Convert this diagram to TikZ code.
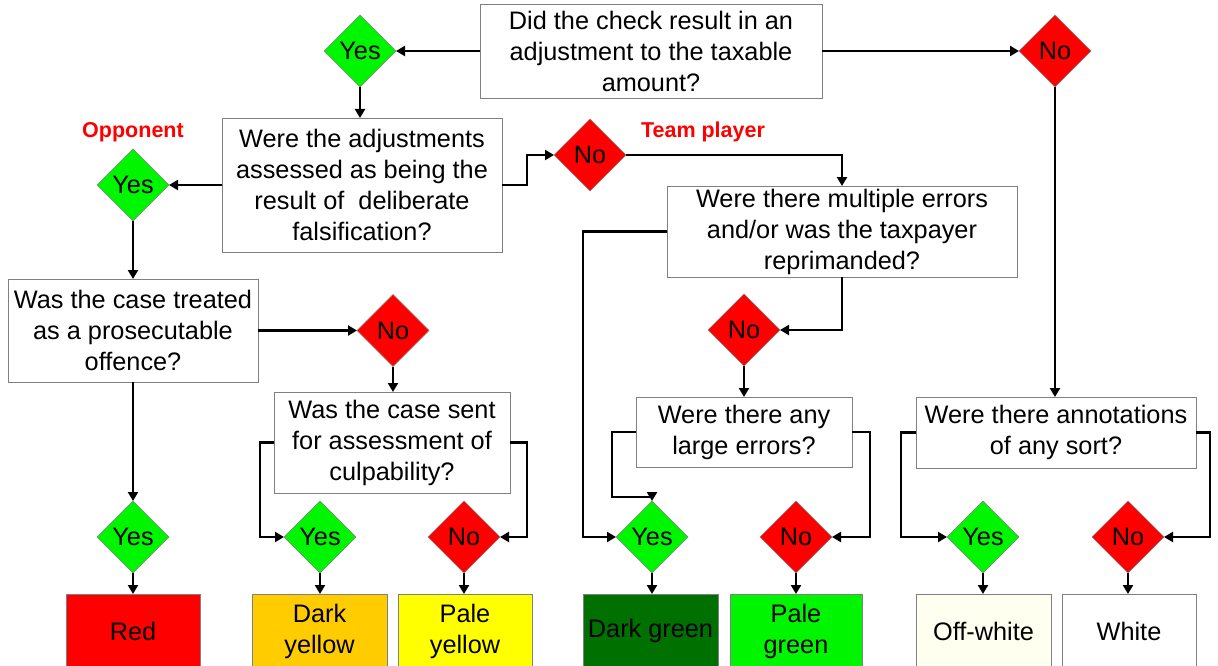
\documentclass[tikz,border=0pt]{standalone}
\usepackage{fontspec}
\setmainfont{Liberation Sans}
\usetikzlibrary{shapes.geometric,arrows.meta}
\definecolor{ygreen}{RGB}{0,245,0}
\definecolor{nred}{RGB}{255,0,0}
\definecolor{boxgray}{RGB}{128,128,128}
\definecolor{dgreen}{RGB}{0,112,0}
\definecolor{pgreen}{RGB}{0,245,0}
\definecolor{dyellow}{RGB}{255,204,0}
\definecolor{pyellow}{RGB}{255,255,0}
\definecolor{offwhite}{RGB}{255,255,240}
\begin{document}
\begin{tikzpicture}[x=1pt,y=-1pt,
  every node/.style={font=\fontsize{25.3}{31}\selectfont, inner sep=0pt, outer sep=0pt},
  qbox/.style={draw=boxgray, line width=0.9pt, fill=white, align=center},
  dia/.style={diamond, draw=boxgray, line width=0.6pt, minimum width=72pt, minimum height=72pt, aspect=1},
  ydia/.style={dia, fill=ygreen},
  ndia/.style={dia, fill=nred},
  res/.style={draw=boxgray, line width=0.9pt, align=center, minimum height=74pt},
  lab/.style={font=\fontsize{21.5}{26}\selectfont\bfseries, text=nred},
  arr/.style={line width=2.8pt, -{Triangle[length=9pt,width=10pt]}}]
\useasboundingbox (0,0) rectangle (1218,666);
\clip (0,0) rectangle (1218,666);

% question boxes
\node[qbox, minimum width=342pt, minimum height=94pt] (q1) at (651,51) {Did the check result in an\\adjustment to the taxable\\amount?};
\node[qbox, minimum width=280pt, minimum height=134pt] (q2) at (362,185) {Were the adjustments\\assessed as being the\\result of\ \ deliberate\\falsification?};
\node[qbox, minimum width=350pt, minimum height=91pt] (q3) at (842,231.5) {Were there multiple errors\\and/or was the taxpayer\\reprimanded?};
\node[qbox, minimum width=216pt, minimum height=70pt] (q4) at (744,432) {Were there any\\large errors?};
\node[qbox, minimum width=280pt, minimum height=71pt] (q5) at (1056,432.5) {Were there annotations\\of any sort?};
\node[qbox, minimum width=250pt, minimum height=103pt] (q6) at (133,330.5) {Was the case treated\\as a prosecutable\\offence?};
\node[qbox, minimum width=236pt, minimum height=101pt] (q7) at (392,442.5) {Was the case sent\\for assessment of\\culpability?};

% diamonds
\node[ydia] (y1) at (360,51) {Yes};
\node[ndia] (n1) at (1055,51) {No};
\node[ydia] (y2) at (133,185) {Yes};
\node[ndia] (n2) at (590,155) {No};
\node[ndia] (n3) at (744,330) {No};
\node[ndia] (n4) at (393,330.5) {No};
\node[ydia] (yR) at (133,537) {Yes};
\node[ydia] (y3) at (320,537) {Yes};
\node[ndia] (n7) at (464,537) {No};
\node[ydia] (y5) at (652,537) {Yes};
\node[ndia] (n5) at (796,537) {No};
\node[ydia] (y6) at (983,537) {Yes};
\node[ndia] (n6) at (1128,537) {No};

% labels
\node[lab] (lopp) at (133,132) {Opponent};
\node[lab] (lteam) at (703,132) {Team player};

% result boxes
\node[res, fill=nred, minimum width=134pt] (red) at (133,631) {Red};
\node[res, fill=dyellow, minimum width=135pt] (dy) at (319.5,631) {Dark\\yellow};
\node[res, fill=pyellow, minimum width=134pt] (py) at (465,631) {Pale\\yellow};
\node[res, fill=dgreen, minimum width=135pt] (dg) at (650.5,631) {Dark green};
\node[res, fill=pgreen, minimum width=132pt] (pg) at (796,631) {Pale\\green};
\node[res, fill=offwhite, minimum width=135pt] (ow) at (983.5,631) {Off-white};
\node[res, fill=white, minimum width=134pt] (wh) at (1129,631) {White};

% coordinates
\coordinate (c1) at (583,231.5);
\coordinate (c2) at (612,497);

% connectors
\draw[arr] (q1.west) -- (y1.east);
\draw[arr] (q1.east) -- (n1.west);
\draw[arr] (y1.south) -- (y1.south |- q2.north);
\draw[arr] (q2.west) -- (y2.east);
\draw[arr] (q2.east) -- ++(25,0) |- (n2.west);
\draw[arr] (n2.east) -| (q3.north);
\draw[arr] (q3.west) -- (c1) |- (y5.west);
\draw[arr] (q3.south) |- (n3.east);
\draw[arr] (n3.south) -- (n3.south |- q4.north);
\draw[arr] (q4.west) -| (c2) -| (y5.north);
\draw[arr] (q4.east) -- ++(18,0) |- (n5.east);
\draw[arr] (y5.south) -- (y5.south |- dg.north);
\draw[arr] (n5.south) -- (n5.south |- pg.north);
\draw[arr] (n1.south) -- (n1.south |- q5.north);
\draw[arr] (q5.west) -- ++(-15,0) |- (y6.west);
\draw[arr] (q5.east) -- ++(14,0) |- (n6.east);
\draw[arr] (y6.south) -- (y6.south |- ow.north);
\draw[arr] (n6.south) -- (n6.south |- wh.north);
\draw[arr] (y2.south) -- (y2.south |- q6.north);
\draw[arr] (q6.east) -- (n4.west);
\draw[arr] (n4.south) -- (n4.south |- q7.north);
\draw[arr] (q7.west) -- ++(-14,0) |- (y3.west);
\draw[arr] (q7.east) -- ++(17,0) |- (n7.east);
\draw[arr] (q6.south) -- (yR.north);
\draw[arr] (yR.south) -- (yR.south |- red.north);
\draw[arr] (y3.south) -- (y3.south |- dy.north);
\draw[arr] (n7.south) -- (n7.south |- py.north);
\end{tikzpicture}
\end{document}
